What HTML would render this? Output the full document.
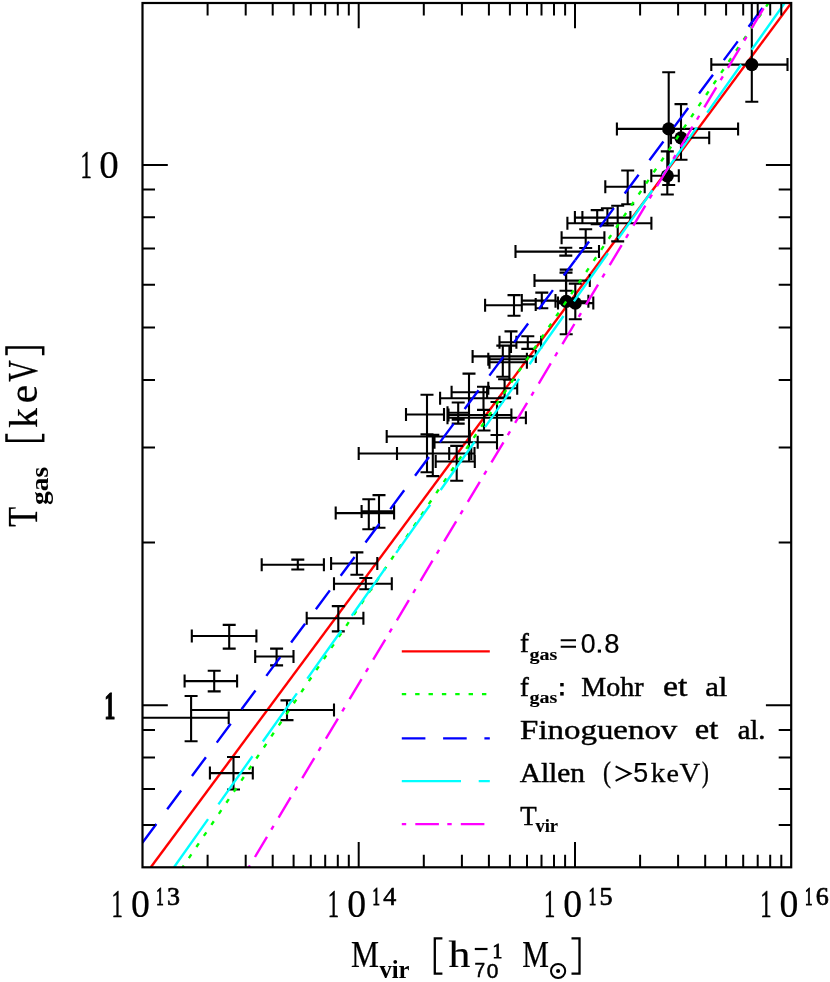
<!DOCTYPE html>
<html><head><meta charset="utf-8"><title>T-M relation</title>
<style>html,body{margin:0;padding:0;background:#fff}svg{display:block}text{fill:#000}</style></head>
<body>
<svg width="830" height="982" viewBox="0 0 830 982" style="will-change:transform">
<rect width="830" height="982" fill="#fff"/>
<defs><clipPath id="cp"><rect x="142.5" y="3.0" width="648.7" height="864.3"/></clipPath></defs>
<g clip-path="url(#cp)" fill="none" stroke-width="2.4">
<path d="M150.8 867.3L791.3 3.0" stroke="#ff0000"/>
</g>
<g fill="none" stroke-width="2.4">
<path d="M401.8 651.4H489.8" stroke="#ff0000"/>
<path d="M401.8 694.1H489.8" stroke="#00ff00" stroke-dasharray="4.4 8.96"/>
<path d="M401.8 738.4H489.8" stroke="#0000ff" stroke-dasharray="23.6 17.7"/>
<path d="M401.8 781.1H489.8" stroke="#00ffff" stroke-dasharray="59.2 17.7"/>
<path d="M401.8 824.1H489.8" stroke="#ff00ff" stroke-dasharray="4.4 9.1 23.6 8.4"/>
</g>
<g clip-path="url(#cp)"><path d="M191.8 636.0H256.4M229.2 624.9V648.6M191.8 629.5V642.5M256.4 629.5V642.5M222.7 624.9H235.7M222.7 648.6H235.7M255.2 656.5H293.5M276.6 648.6V665.4M255.2 650.0V663.0M293.5 650.0V663.0M270.1 648.6H283.1M270.1 665.4H283.1M184.6 681.1H237.1M214.2 670.7V691.4M184.6 674.6V687.6M237.1 674.6V687.6M207.7 670.7H220.7M207.7 691.4H220.7M120.0 717.7H228.7M191.1 696.0V741.3M120.0 711.2V724.2M228.7 711.2V724.2M184.6 696.0H197.6M184.6 741.3H197.6M191.1 710.0H334.0M287.0 700.4V720.1M191.1 703.5V716.5M334.0 703.5V716.5M280.5 700.4H293.5M280.5 720.1H293.5M209.9 773.1H252.8M233.5 757.0V789.5M209.9 766.6V779.6M252.8 766.6V779.6M227.0 757.0H240.0M227.0 789.5H240.0M306.7 618.2H363.4M338.3 606.1V631.4M306.7 611.7V624.7M363.4 611.7V624.7M331.8 606.1H344.8M331.8 631.4H344.8M334.0 583.7H391.8M365.8 578.0V589.3M334.0 577.2V590.2M391.8 577.2V590.2M359.3 578.0H372.3M359.3 589.3H372.3M331.1 563.5H377.3M356.9 552.4V574.8M331.1 557.0V570.0M377.3 557.0V570.0M350.4 552.4H363.4M350.4 574.8H363.4M261.7 564.7H323.9M297.8 559.6V569.5M261.7 558.2V571.2M323.9 558.2V571.2M291.3 559.6H304.3M291.3 569.5H304.3M335.7 513.1H394.1M368.8 499.3V529.2M335.7 506.6V519.6M394.1 506.6V519.6M362.3 499.3H375.3M362.3 529.2H375.3M361.6 511.4H394.1M379.0 495.1V527.8M361.6 504.9V517.9M394.1 504.9V517.9M372.5 495.1H385.5M372.5 527.8H385.5M406.0 414.5H444.0M427.0 394.7V434.3M406.0 408.0V421.0M444.0 408.0V421.0M420.5 394.7H433.5M420.5 434.3H433.5M386.7 436.5H469.8M386.7 430.0V443.0M469.8 430.0V443.0M358.7 453.5H474.5M427.0 434.7V472.3M358.7 447.0V460.0M474.5 447.0V460.0M420.5 472.3H433.5M397.0 453.5H474.5M432.8 434.7V476.1M397.0 447.0V460.0M426.3 434.7H439.3M426.3 476.1H439.3M434.5 442.2H497.0M434.5 435.7V448.7M477.7 435.7V448.7M435.7 461.5H474.8M456.7 445.9V480.8M435.7 455.0V468.0M474.8 455.0V468.0M450.2 445.9H463.2M450.2 480.8H463.2M447.5 412.8H470.0M458.2 402.5V423.6M447.5 406.3V419.3M451.7 402.5H464.7M451.7 423.6H464.7M451.7 419.8H464.7M448.5 415.0H511.4M469.0 373.6V461.6M448.5 408.5V421.5M511.4 408.5V421.5M462.5 373.6H475.5M447.5 417.8H525.9M497.0 402.0V449.4M447.5 411.3V424.3M525.9 411.3V424.3M490.5 402.0H503.5M490.5 435.0H503.5M440.1 398.3H511.0M483.5 386.7V409.9M440.1 391.8V404.8M477.0 386.7H490.0M477.0 409.9H490.0M484.0 409.9V430.5M477.5 430.5H490.5M451.6 392.3H487.1M451.6 385.8V398.8M487.1 385.8V398.8M488.3 388.2H517.2M504.6 379.2V397.5M488.3 381.7V394.7M517.2 381.7V394.7M498.1 379.2H511.1M498.1 397.5H511.1M449.2 447.0V460.0M471.3 447.0V460.0M472.6 356.4H535.8M502.8 345.6V376.7M472.6 349.9V362.9M535.8 349.9V362.9M496.3 345.6H509.3M496.3 376.7H509.3M488.3 359.2H526.9M509.4 345.6V379.8M488.3 352.7V365.7M526.9 352.7V365.7M502.9 345.6H515.9M502.9 379.8H515.9M489.5 362.2H526.9M489.5 355.7V368.7M526.9 355.7V368.7M499.5 342.3H522.0M511.0 331.4V353.0M499.5 335.8V348.8M504.5 331.4H517.5M516.4 342.3H541.1M527.8 336.3V348.9M516.4 335.8V348.8M541.1 335.8V348.8M521.3 336.3H534.3M521.3 348.9H534.3M485.1 305.2H521.8M514.0 295.1V315.8M485.1 298.7V311.7M521.8 298.7V311.7M507.5 295.1H520.5M507.5 315.8H520.5M521.8 300.6H555.5M541.8 292.6V308.3M521.8 294.1V307.1M555.5 294.1V307.1M535.3 292.6H548.3M535.3 308.3H548.3M521.8 304.4H535.7M535.7 297.9V310.9M534.5 280.6H589.8M566.0 272.6V290.7M534.5 274.1V287.1M589.8 274.1V287.1M559.5 272.6H572.5M559.5 290.7H572.5M555.5 301.3H588.4M566.2 269.6V334.2M555.5 294.8V307.8M588.4 294.8V307.8M559.7 269.6H572.7M559.7 334.2H572.7M558.0 303.1H593.3M575.3 283.6V319.3M558.0 296.6V309.6M593.3 296.6V309.6M568.8 283.6H581.8M568.8 319.3H581.8M515.5 251.6H599.0M565.8 247.7V255.6M515.5 245.1V258.1M599.0 245.1V258.1M559.3 247.7H572.3M559.3 255.6H572.3M561.6 237.8H604.4M585.7 229.3V248.0M561.6 231.3V244.3M604.4 231.3V244.3M579.2 229.3H592.2M579.2 248.0H592.2M574.9 217.6H620.0M597.2 210.1V224.1M574.9 211.1V224.1M590.7 210.1H603.7M590.7 224.1H603.7M582.4 217.6H630.4M607.4 208.2V225.5M582.4 211.1V224.1M630.4 211.1V224.1M600.9 208.2H613.9M600.9 225.5H613.9M567.4 223.3H651.4M617.7 205.8V241.4M567.4 216.8V229.8M651.4 216.8V229.8M611.2 205.8H624.2M611.2 241.4H624.2M605.3 186.8H644.7M627.7 170.5V204.3M605.3 180.3V193.3M644.7 180.3V193.3M621.2 170.5H634.2M621.2 204.3H634.2M651.3 175.8H678.8M667.3 151.4V194.5M651.3 169.3V182.3M678.8 169.3V182.3M660.8 151.4H673.8M660.8 194.5H673.8M616.9 128.9H738.1M668.7 72.3V185.0M616.9 122.4V135.4M738.1 122.4V135.4M662.2 72.3H675.2M662.2 185.0H675.2M671.0 137.8H709.2M681.0 104.1V159.8M671.0 131.3V144.3M709.2 131.3V144.3M674.5 104.1H687.5M674.5 159.8H687.5M711.3 64.6H787.5M751.8 -10.0V101.7M711.3 58.1V71.1M787.5 58.1V71.1M745.3 -10.0H758.3M745.3 101.7H758.3" fill="none" stroke="#000" stroke-width="2.1"/><circle cx="566.2" cy="301.3" r="6.6"/><circle cx="575.3" cy="303.1" r="6.6"/><circle cx="667.3" cy="175.8" r="6.6"/><circle cx="668.7" cy="128.9" r="6.6"/><circle cx="681.0" cy="137.8" r="6.6"/><circle cx="751.8" cy="64.6" r="6.6"/></g>
<g clip-path="url(#cp)" fill="none" stroke-width="2.4">
<path d="M182.6 867.3L768.5 3.0" stroke="#00ff00" stroke-dasharray="4.4 8.96" stroke-dashoffset="2.2"/>
<path d="M142.4 842.7L575.1 260.3" stroke="#0000ff" stroke-dasharray="23.4 18.16"/>
<path d="M575.1 260.3L766.7 2.4" stroke="#0000ff" stroke-dasharray="23.4 18.16"/>
<path d="M174.0 867.3L784.3 3.6" stroke="#00ffff" stroke-dasharray="59 18"/>
<path d="M248.8 867.3L766.8 3.0" stroke="#ff00ff" stroke-dasharray="4.4 9.8 23.4 8.4" stroke-dashoffset="2.2"/>
</g>
<path d="M207.6 867.3V854.8M207.6 3.0V15.5M245.7 867.3V854.8M245.7 3.0V15.5M272.7 867.3V854.8M272.7 3.0V15.5M293.6 867.3V854.8M293.6 3.0V15.5M310.8 867.3V854.8M310.8 3.0V15.5M325.2 867.3V854.8M325.2 3.0V15.5M337.8 867.3V854.8M337.8 3.0V15.5M348.8 867.3V854.8M348.8 3.0V15.5M358.7 867.3V842.0M358.7 3.0V28.3M423.8 867.3V854.8M423.8 3.0V15.5M461.9 867.3V854.8M461.9 3.0V15.5M488.9 867.3V854.8M488.9 3.0V15.5M509.9 867.3V854.8M509.9 3.0V15.5M527.0 867.3V854.8M527.0 3.0V15.5M541.5 867.3V854.8M541.5 3.0V15.5M554.0 867.3V854.8M554.0 3.0V15.5M565.1 867.3V854.8M565.1 3.0V15.5M575.0 867.3V842.0M575.0 3.0V28.3M640.1 867.3V854.8M640.1 3.0V15.5M678.1 867.3V854.8M678.1 3.0V15.5M705.2 867.3V854.8M705.2 3.0V15.5M726.1 867.3V854.8M726.1 3.0V15.5M743.2 867.3V854.8M743.2 3.0V15.5M757.7 867.3V854.8M757.7 3.0V15.5M770.2 867.3V854.8M770.2 3.0V15.5M781.3 867.3V854.8M781.3 3.0V15.5M142.5 825.1H155.0M791.2 825.1H778.7M142.5 788.9H155.0M791.2 788.9H778.7M142.5 757.6H155.0M791.2 757.6H778.7M142.5 729.9H155.0M791.2 729.9H778.7M142.5 705.2H167.8M791.2 705.2H765.9M142.5 542.6H155.0M791.2 542.6H778.7M142.5 447.4H155.0M791.2 447.4H778.7M142.5 379.9H155.0M791.2 379.9H778.7M142.5 327.5H155.0M791.2 327.5H778.7M142.5 284.8H155.0M791.2 284.8H778.7M142.5 248.6H155.0M791.2 248.6H778.7M142.5 217.3H155.0M791.2 217.3H778.7M142.5 189.6H155.0M791.2 189.6H778.7M142.5 164.9H167.8M791.2 164.9H765.9" fill="none" stroke="#000" stroke-width="2"/>
<rect x="142.5" y="3.0" width="648.7" height="864.3" fill="none" stroke="#000" stroke-width="2.2"/>
<text transform="matrix(0.1130 0 0 0.2000 111.60 916.60)" font-family="Liberation Serif, serif" font-weight="normal" font-size="200"  stroke="#000" stroke-width="2.7">1</text>
<text transform="matrix(0.1890 0 0 0.2045 130.90 917.00)" font-family="Liberation Serif, serif" font-weight="normal" font-size="200"  stroke="#000" stroke-width="1.1">0</text>
<text transform="matrix(0.0740 0 0 0.1235 156.20 905.10)" font-family="Liberation Serif, serif" font-weight="normal" font-size="200"  stroke="#000" stroke-width="9.5">1</text>
<text transform="matrix(0.1300 0 0 0.1265 167.00 905.30)" font-family="Liberation Serif, serif" font-weight="normal" font-size="200"  stroke="#000" stroke-width="5.4">3</text>
<text transform="matrix(0.1130 0 0 0.2000 327.83 916.60)" font-family="Liberation Serif, serif" font-weight="normal" font-size="200"  stroke="#000" stroke-width="2.7">1</text>
<text transform="matrix(0.1890 0 0 0.2045 347.13 917.00)" font-family="Liberation Serif, serif" font-weight="normal" font-size="200"  stroke="#000" stroke-width="1.1">0</text>
<text transform="matrix(0.0740 0 0 0.1235 372.43 905.10)" font-family="Liberation Serif, serif" font-weight="normal" font-size="200"  stroke="#000" stroke-width="9.5">1</text>
<text transform="matrix(0.1300 0 0 0.1265 383.23 905.30)" font-family="Liberation Serif, serif" font-weight="normal" font-size="200"  stroke="#000" stroke-width="5.4">4</text>
<text transform="matrix(0.1130 0 0 0.2000 544.07 916.60)" font-family="Liberation Serif, serif" font-weight="normal" font-size="200"  stroke="#000" stroke-width="2.7">1</text>
<text transform="matrix(0.1890 0 0 0.2045 563.37 917.00)" font-family="Liberation Serif, serif" font-weight="normal" font-size="200"  stroke="#000" stroke-width="1.1">0</text>
<text transform="matrix(0.0740 0 0 0.1235 588.67 905.10)" font-family="Liberation Serif, serif" font-weight="normal" font-size="200"  stroke="#000" stroke-width="9.5">1</text>
<text transform="matrix(0.1300 0 0 0.1275 599.47 905.30)" font-family="Liberation Serif, serif" font-weight="normal" font-size="200"  stroke="#000" stroke-width="5.4">5</text>
<text transform="matrix(0.1130 0 0 0.2000 760.30 916.60)" font-family="Liberation Serif, serif" font-weight="normal" font-size="200"  stroke="#000" stroke-width="2.7">1</text>
<text transform="matrix(0.1890 0 0 0.2045 779.60 917.00)" font-family="Liberation Serif, serif" font-weight="normal" font-size="200"  stroke="#000" stroke-width="1.1">0</text>
<text transform="matrix(0.0740 0 0 0.1235 804.90 905.10)" font-family="Liberation Serif, serif" font-weight="normal" font-size="200"  stroke="#000" stroke-width="9.5">1</text>
<text transform="matrix(0.1300 0 0 0.1265 815.70 905.30)" font-family="Liberation Serif, serif" font-weight="normal" font-size="200"  stroke="#000" stroke-width="5.4">6</text>
<text transform="matrix(0.1130 0 0 0.1962 80.40 178.00)" font-family="Liberation Serif, serif" font-weight="normal" font-size="200"  stroke="#000" stroke-width="2.7">1</text>
<text transform="matrix(0.1950 0 0 0.2008 99.30 178.40)" font-family="Liberation Serif, serif" font-weight="normal" font-size="200"  stroke="#000" stroke-width="1.0">0</text>
<text transform="matrix(0.1110 0 0 0.1977 104.20 718.90)" font-family="Liberation Serif, serif" font-weight="bold" font-size="200"  stroke="#000" stroke-width="5.4">1</text>
<text transform="matrix(0.1573 0 0 0.1893 351.00 967.10)" font-family="Liberation Serif, serif" font-weight="normal" font-size="200"  stroke="#000" stroke-width="1.3">M</text>
<text transform="matrix(0.1234 0 0 0.1272 379.40 977.60)" font-family="Liberation Serif, serif" font-weight="bold" font-size="200" >vir</text>
<path d="M442.4 938.3H434.8V973.6H442.4M571.5 938.3H579.5V973.6H571.5" fill="none" stroke="#000" stroke-width="2.3"/>
<text transform="matrix(0.2190 0 0 0.1885 448.60 966.90)" font-family="Liberation Serif, serif" font-weight="normal" font-size="200"  stroke="#000" stroke-width="0.9">h</text>
<path d="M474.8 949H487.5" stroke="#000" stroke-width="2.2"/>
<text transform="matrix(0.0980 0 0 0.1030 492.60 957.90)" font-family="Liberation Serif, serif" font-weight="normal" font-size="200"  stroke="#000" stroke-width="8.2">1</text>
<text transform="matrix(0.0955 0 0 0.0978 474.40 977.30)" font-family="Liberation Sans, sans-serif" font-weight="normal" font-size="200"  stroke="#000" stroke-width="5.2">7</text>
<text transform="matrix(0.1045 0 0 0.0993 486.70 977.50)" font-family="Liberation Sans, sans-serif" font-weight="normal" font-size="200"  stroke="#000" stroke-width="4.8">0</text>
<text transform="matrix(0.1500 0 0 0.1893 522.30 967.10)" font-family="Liberation Serif, serif" font-weight="normal" font-size="200"  stroke="#000" stroke-width="1.3">M</text>
<circle cx="558.1" cy="971" r="7.1" fill="none" stroke="#000" stroke-width="2"/><circle cx="558.1" cy="971" r="2.1"/>
<g transform="translate(36.9,530) rotate(-90)">
<text transform="matrix(0.1623 0 0 0.2084 3.20 0.00)" font-family="Liberation Serif, serif" font-weight="normal" font-size="200"  stroke="#000" stroke-width="1.2">T</text>
<text transform="matrix(0.1367 0 0 0.1255 25.10 10.70)" font-family="Liberation Serif, serif" font-weight="bold" font-size="200" >gas</text>
<path d="M96.3 -30.4H89.3V6.3H96.3M174.7 -30.4H182.4V6.3H174.7" fill="none" stroke="#000" stroke-width="2.5"/>
<text transform="matrix(0.1990 0 0 0.1993 101.90 0.00)" font-family="Liberation Serif, serif" font-weight="normal" font-size="200"  stroke="#000" stroke-width="1.0">k</text>
<text transform="matrix(0.2067 0 0 0.2085 126.80 0.20)" font-family="Liberation Serif, serif" font-weight="normal" font-size="200"  stroke="#000" stroke-width="1.0">e</text>
<text transform="matrix(0.1486 0 0 0.2115 148.20 0.20)" font-family="Liberation Serif, serif" font-weight="normal" font-size="200"  stroke="#000" stroke-width="1.3">V</text>
</g>
<text transform="matrix(0.1328 0 0 0.1362 520.00 652.40)" font-family="Liberation Serif, serif" font-weight="normal" font-size="200"  stroke="#000" stroke-width="3.8">f</text>
<text transform="matrix(0.1000 0 0 0.0840 529.60 659.80)" font-family="Liberation Serif, serif" font-weight="bold" font-size="200"  stroke="#000" stroke-width="1.5">gas</text>
<path d="M560.7 640.2H576M560.7 646.8H576" stroke="#000" stroke-width="2"/>
<text transform="matrix(0.1333 0 0 0.1371 580.80 652.70)" font-family="Liberation Sans, sans-serif" font-weight="normal" font-size="200"  stroke="#000" stroke-width="1.5">0</text>
<rect x="597.8" y="649.6" width="3.2" height="3.0"/>
<text transform="matrix(0.1369 0 0 0.1371 604.30 652.70)" font-family="Liberation Sans, sans-serif" font-weight="normal" font-size="200"  stroke="#000" stroke-width="1.5">8</text>
<text transform="matrix(0.1328 0 0 0.1362 520.00 695.80)" font-family="Liberation Serif, serif" font-weight="normal" font-size="200"  stroke="#000" stroke-width="3.8">f</text>
<text transform="matrix(0.1000 0 0 0.0840 529.60 703.20)" font-family="Liberation Serif, serif" font-weight="bold" font-size="200"  stroke="#000" stroke-width="1.5">gas</text>
<rect x="560.2" y="683.0" width="3.5" height="3.4"/><rect x="560.2" y="692.0" width="3.5" height="3.6"/>
<text transform="matrix(0.1399 0 0 0.1405 581.30 695.80)" font-family="Liberation Serif, serif" font-weight="normal" font-size="200"  stroke="#000" stroke-width="3.6">Mohr</text>
<text transform="matrix(0.1694 0 0 0.1434 662.90 696.00)" font-family="Liberation Serif, serif" font-weight="normal" font-size="200"  stroke="#000" stroke-width="3.0">et</text>
<text transform="matrix(0.1535 0 0 0.1381 705.20 695.80)" font-family="Liberation Serif, serif" font-weight="normal" font-size="200"  stroke="#000" stroke-width="3.3">al</text>
<text transform="matrix(0.1646 0 0 0.1412 520.10 739.00)" font-family="Liberation Serif, serif" font-weight="normal" font-size="200"  stroke="#000" stroke-width="3.0">Finoguenov</text>
<text transform="matrix(0.1625 0 0 0.1434 694.80 739.20)" font-family="Liberation Serif, serif" font-weight="normal" font-size="200"  stroke="#000" stroke-width="3.1">et</text>
<text transform="matrix(0.1428 0 0 0.1381 737.70 739.00)" font-family="Liberation Serif, serif" font-weight="normal" font-size="200"  stroke="#000" stroke-width="3.5">al.</text>
<text transform="matrix(0.1471 0 0 0.1402 519.70 781.50)" font-family="Liberation Serif, serif" font-weight="normal" font-size="200"  stroke="#000" stroke-width="3.4">Allen</text>
<text transform="matrix(0.1194 0 0 0.1482 602.90 781.50)" font-family="Liberation Serif, serif" font-weight="normal" font-size="200"  stroke="#000" stroke-width="2.5">(</text>
<path d="M615.6 766.4L630.3 773.6L615.6 780.8" fill="none" stroke="#000" stroke-width="2"/>
<text transform="matrix(0.1342 0 0 0.1362 633.20 781.70)" font-family="Liberation Sans, sans-serif" font-weight="normal" font-size="200"  stroke="#000" stroke-width="1.5">5</text>
<text transform="matrix(0.1460 0 0 0.1381 650.70 781.50)" font-family="Liberation Serif, serif" font-weight="normal" font-size="200"  stroke="#000" stroke-width="2.1">k</text>
<text transform="matrix(0.1404 0 0 0.1255 666.50 781.70)" font-family="Liberation Serif, serif" font-weight="normal" font-size="200"  stroke="#000" stroke-width="2.1">e</text>
<text transform="matrix(0.1438 0 0 0.1412 679.40 781.70)" font-family="Liberation Serif, serif" font-weight="normal" font-size="200"  stroke="#000" stroke-width="2.1">V</text>
<text transform="matrix(0.1015 0 0 0.1482 702.10 781.50)" font-family="Liberation Serif, serif" font-weight="normal" font-size="200"  stroke="#000" stroke-width="3.0">)</text>
<text transform="matrix(0.1344 0 0 0.1412 520.30 825.00)" font-family="Liberation Serif, serif" font-weight="normal" font-size="200"  stroke="#000" stroke-width="3.7">T</text>
<text transform="matrix(0.0926 0 0 0.0967 535.40 832.10)" font-family="Liberation Serif, serif" font-weight="bold" font-size="200"  stroke="#000" stroke-width="1.6">vir</text>
</svg>
</body></html>
